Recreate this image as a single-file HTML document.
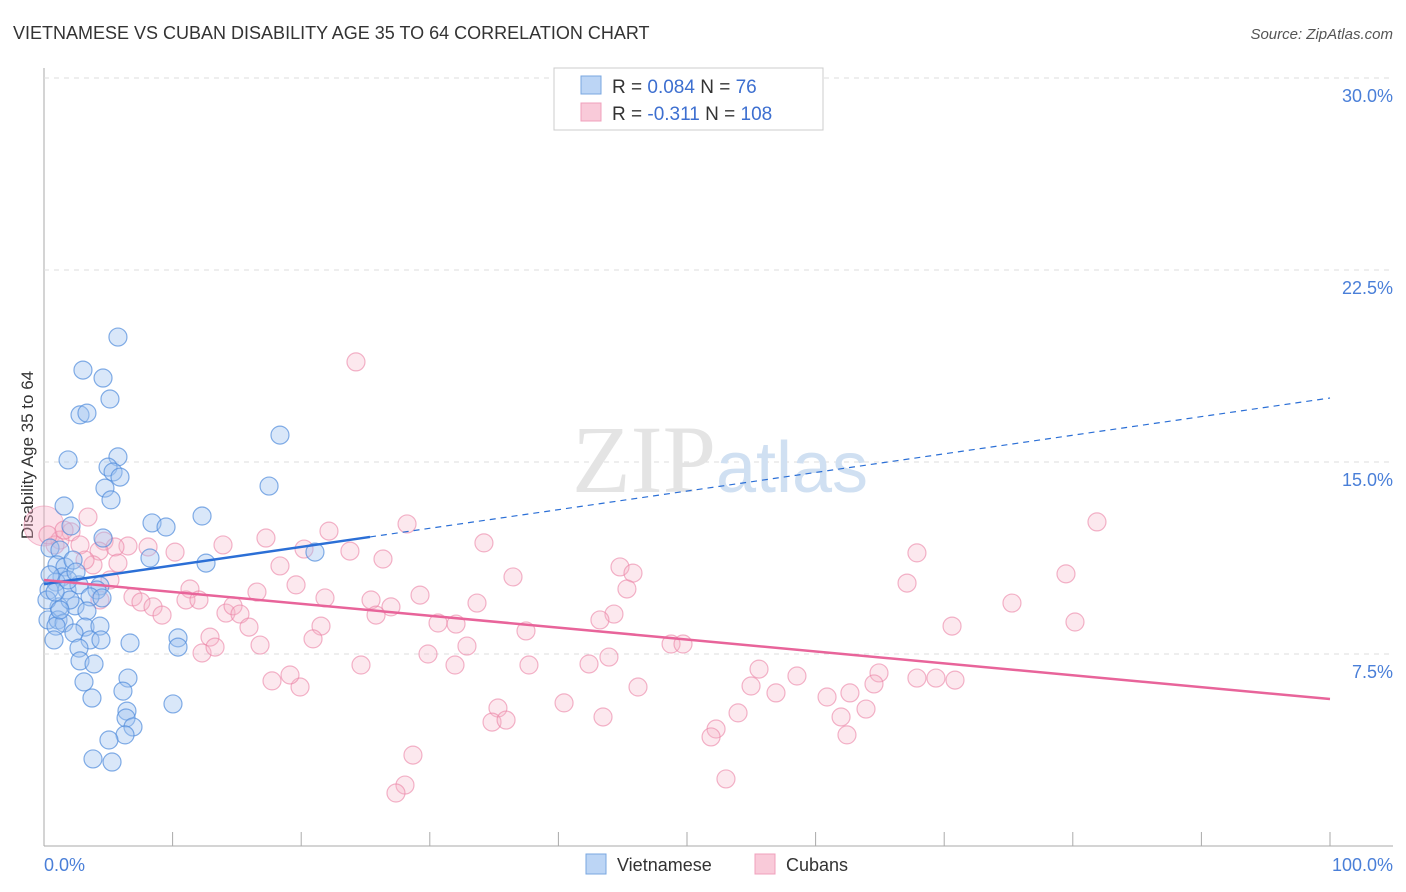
<!DOCTYPE html>
<html><head><meta charset="utf-8"><style>
body{margin:0;background:#fff;font-family:"Liberation Sans",sans-serif}
#c{position:absolute;left:0;top:0}
</style></head><body>
<svg id="c" width="1406" height="892" font-family="Liberation Sans, sans-serif">
<text x="13" y="39" font-size="18" fill="#333">VIETNAMESE VS CUBAN DISABILITY AGE 35 TO 64 CORRELATION CHART</text>
<text x="1393" y="39" font-size="15" fill="#555" text-anchor="end" font-style="italic">Source: ZipAtlas.com</text>
<text x="33" y="455" font-size="17" fill="#333" text-anchor="middle" transform="rotate(-90 33 455)">Disability Age 35 to 64</text>
<g id="grid"></g>
<text x="720" y="492" font-size="96" fill="#e4e4e4" text-anchor="middle" font-family="Liberation Serif, serif">ZIP<tspan fill="#d0e0f2" font-family="Liberation Sans, sans-serif" font-size="72">atlas</tspan></text>
<g id="pts"></g>
<g id="lines"></g>
<g>
<rect x="554" y="68" width="269" height="62" fill="#fff" stroke="#ccc"/>
<rect x="581" y="76" width="20" height="18" fill="#bcd5f5" stroke="#7aa7e0"/>
<rect x="581" y="103" width="20" height="18" fill="#f9cad9" stroke="#f0a0bc"/>
<text x="612" y="93" font-size="19" fill="#333">R = <tspan fill="#3d6fd0">0.084</tspan>   N = <tspan fill="#3d6fd0"> 76</tspan></text>
<text x="612" y="120" font-size="19" fill="#333">R = <tspan fill="#3d6fd0">-0.311</tspan>   N = <tspan fill="#3d6fd0">108</tspan></text>
</g>
<g>
<rect x="586" y="854" width="20" height="20" fill="#bcd5f5" stroke="#7aa7e0"/>
<text x="617" y="871" font-size="18" fill="#333">Vietnamese</text>
<rect x="755" y="854" width="20" height="20" fill="#f9cad9" stroke="#f0a0bc"/>
<text x="786" y="871" font-size="18" fill="#333">Cubans</text>
</g>
</svg>
<script>
const yTicks=[7.5,15,22.5,30];
const yTickLabels=["7.5%","15.0%","22.5%","30.0%"];
const xEndLabels=["0.0%","100.0%"];
const viX=[5.75,3.03,4.59,5.13,2.80,3.34,18.35,1.87,5.75,4.98,5.37,5.91,4.74,5.21,17.50,1.56,12.29,8.40,9.49,2.10,4.59,0.47,8.24,12.60,21.07,1.24,1.01,1.63,2.26,1.40,0.93,1.79,0.39,4.35,4.12,2.72,3.58,2.41,1.17,3.34,4.51,0.31,1.09,1.56,0.93,3.19,4.35,2.33,3.58,4.43,6.69,10.42,10.42,2.72,2.80,3.89,3.11,6.53,6.14,3.73,10.03,6.45,6.38,6.92,6.30,5.05,3.81,5.29,0.47,2.02,0.78,0.23,0.86,1.24,1.87,2.49];
const viY=[19.88,18.59,18.28,17.46,16.84,16.91,16.05,15.08,15.20,14.80,14.61,14.41,13.98,13.52,14.06,13.28,12.89,12.62,12.46,12.50,12.03,11.64,11.25,11.05,11.48,11.56,10.98,10.90,11.17,10.51,10.31,10.00,10.00,10.16,10.00,10.20,9.73,9.38,9.34,9.18,9.69,8.83,8.83,8.71,8.59,8.55,8.59,8.32,8.05,8.05,7.93,8.13,7.77,7.73,7.23,7.11,6.41,6.56,6.05,5.78,5.55,5.27,5.00,4.65,4.34,4.14,3.40,3.28,10.59,9.61,8.05,9.61,9.92,9.22,10.39,10.70];
const cuX=[24.26,81.88,2.10,3.42,28.23,22.16,17.26,20.22,23.79,13.92,34.21,8.09,10.19,4.67,6.53,5.52,4.28,1.24,0.86,2.80,67.88,26.36,18.35,44.79,45.80,36.47,79.47,67.11,3.81,5.75,11.35,19.60,45.33,4.35,16.56,29.24,6.92,7.54,11.04,12.05,21.85,25.43,26.98,33.67,75.27,8.48,9.18,14.15,14.70,15.24,25.82,44.32,43.23,21.54,30.64,32.04,80.17,70.61,15.94,37.48,12.91,20.92,32.89,48.76,49.69,12.29,13.30,16.80,29.86,42.38,37.71,24.65,31.96,43.93,55.60,58.55,64.93,17.73,19.91,19.13,46.19,54.98,56.92,60.89,62.67,64.54,67.88,69.36,70.84,63.92,61.98,40.44,35.30,53.97,43.47,34.84,35.93,52.26,51.87,62.44,28.69,28.07,27.37,53.03,0.31,1.56,3.19,5.13];
const cuY=[18.91,12.66,12.27,12.85,12.58,12.30,12.03,11.60,11.52,11.76,11.84,11.68,11.48,11.91,11.72,11.68,11.52,11.95,11.76,11.76,11.45,11.21,10.94,10.90,10.66,10.51,10.63,10.27,10.98,11.05,10.04,10.20,10.04,9.61,9.92,9.80,9.73,9.53,9.61,9.61,9.69,9.61,9.34,9.49,9.49,9.34,9.02,9.10,9.38,9.06,9.02,9.06,8.83,8.59,8.71,8.67,8.75,8.59,8.55,8.40,8.16,8.09,7.81,7.89,7.89,7.54,7.77,7.85,7.50,7.11,7.07,7.07,7.07,7.38,6.91,6.64,6.76,6.45,6.21,6.68,6.21,6.25,5.98,5.82,5.98,6.33,6.56,6.56,6.48,5.35,5.04,5.59,5.39,5.20,5.04,4.84,4.92,4.57,4.26,4.34,3.55,2.38,2.07,2.62,12.15,12.34,11.17,10.39];
const viTrend=[10.23,17.5]; const viSolidEnd=25.35;
const cuTrend=[10.39,5.74];
const X=v=>44+v*12.86, Y=v=>846-v*25.6;
const NS='http://www.w3.org/2000/svg';
function mk(t,a,p){const e=document.createElementNS(NS,t);for(const k in a)e.setAttribute(k,a[k]);p.appendChild(e);return e;}
const grid=document.getElementById('grid');
const ax=mk('line',{x1:44,y1:68,x2:44,y2:846,stroke:'#aaa'},grid);


const bx=mk('line',{x1:44,y1:846,x2:1393,y2:846,stroke:'#aaa'},grid);


for(let i=0;i<=10;i++){const t=mk('line',{x1:X(i*10),y1:832,x2:X(i*10),y2:846,stroke:'#aaa'},grid);

}
yTicks.forEach((v,i)=>{const g=mk('line',{x1:44,y1:Y(v),x2:1393,y2:Y(v),stroke:'#ddd','stroke-dasharray':'5,5'},grid);


const t=mk('text',{x:1393,y:Y(v)+24,'font-size':18,fill:'#4a7fd8','text-anchor':'end'},grid);t.textContent=yTickLabels[i];

});
xEndLabels.forEach((s,i)=>{const t=mk('text',{x:i?1393:44,y:871,'font-size':18,fill:'#4a7fd8','text-anchor':i?'end':'start'},grid);t.textContent=s;

});
const pts=document.getElementById('pts');
const big=mk('circle',{cx:X(0),cy:Y(12.5),r:20,fill:'rgba(245,170,195,0.35)',stroke:'rgba(235,130,165,0.5)'},pts);


cuX.forEach((v,i)=>{const c=mk('circle',{cx:X(v),cy:Y(cuY[i]),r:9,fill:'rgba(246,178,200,0.3)',stroke:'rgba(235,130,165,0.6)','stroke-width':1.2},pts);

});
viX.forEach((v,i)=>{const c=mk('circle',{cx:X(v),cy:Y(viY[i]),r:9,fill:'rgba(160,196,240,0.4)',stroke:'rgba(80,140,220,0.7)','stroke-width':1.2},pts);

});
const L=document.getElementById('lines');
const vy=x=>viTrend[0]+(viTrend[1]-viTrend[0])*x/100;
const l1=mk('line',{x1:X(0),y1:Y(vy(0)),x2:X(viSolidEnd),y2:Y(vy(viSolidEnd)),stroke:'#2b6fd6','stroke-width':2.5},L);


const l2=mk('line',{x1:X(viSolidEnd),y1:Y(vy(viSolidEnd)),x2:X(100),y2:Y(vy(100)),stroke:'#2b6fd6','stroke-width':1.2,'stroke-dasharray':'6,5'},L);


const l3=mk('line',{x1:X(0),y1:Y(cuTrend[0]),x2:X(100),y2:Y(cuTrend[1]),stroke:'#e8649a','stroke-width':2.5},L);


</script>
</body></html>
